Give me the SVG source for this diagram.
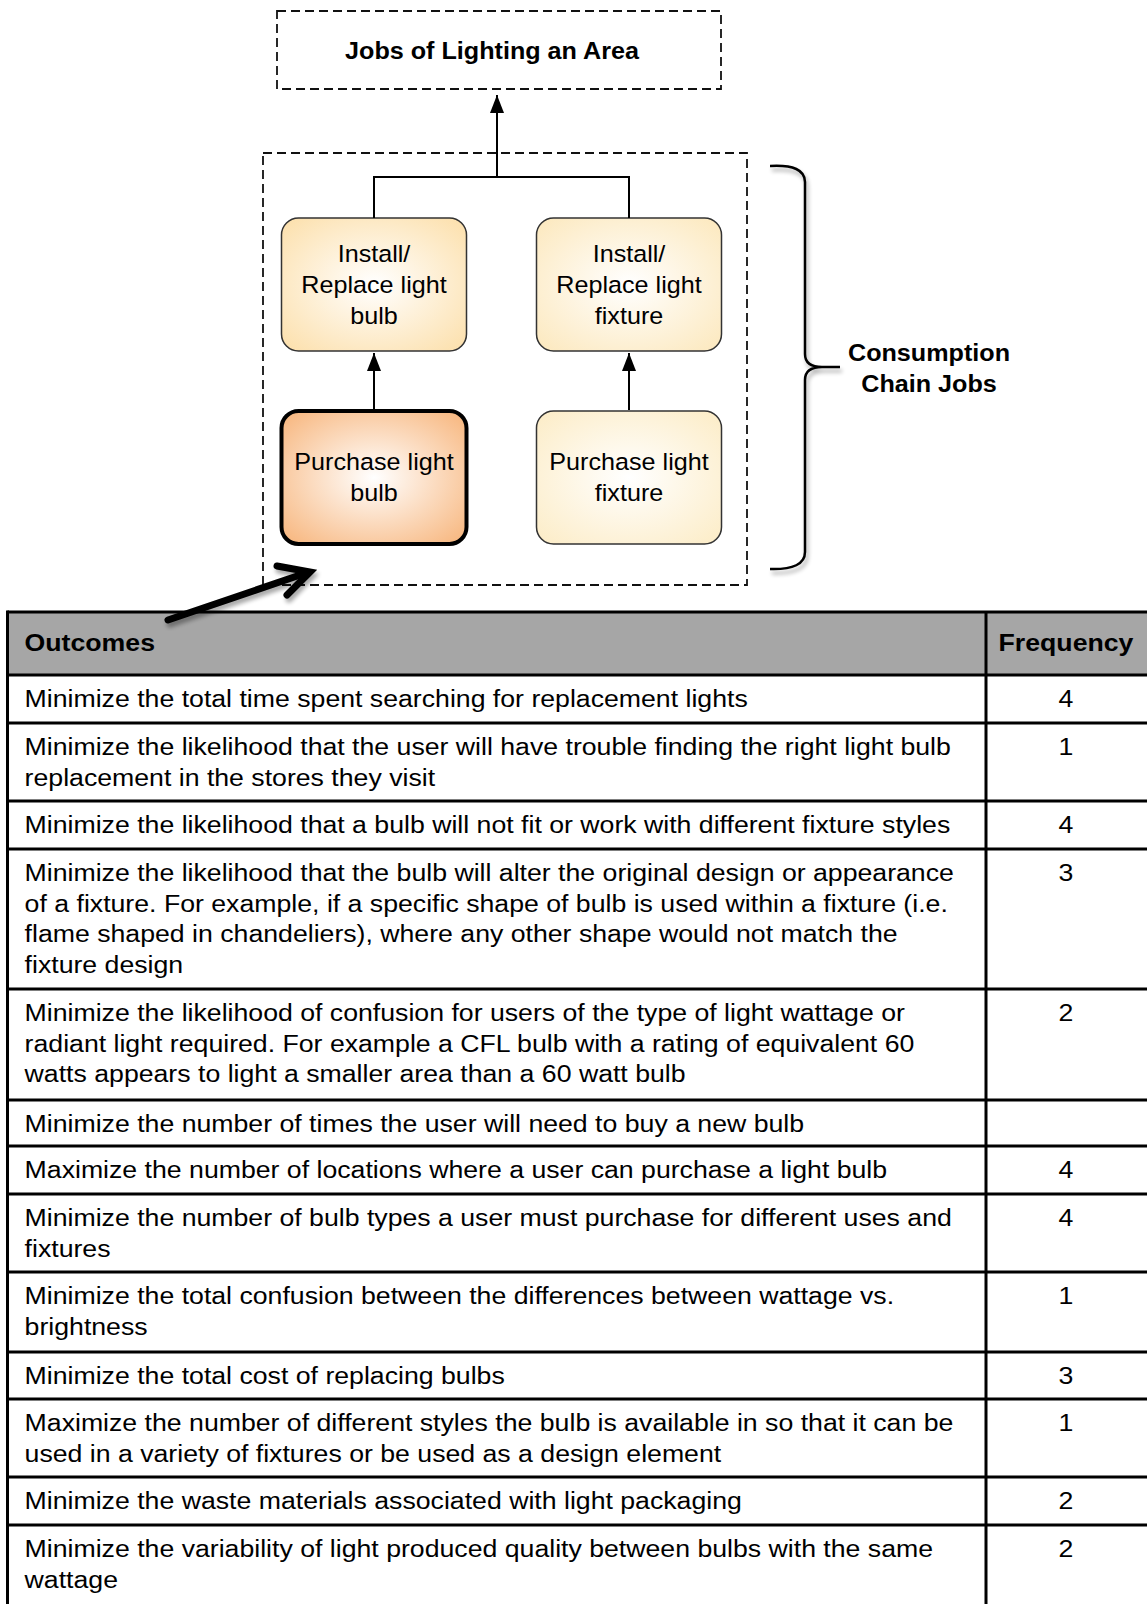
<svg xmlns="http://www.w3.org/2000/svg" width="1147" height="1604" viewBox="0 0 1147 1604">
  <style>
    .dash { fill: none; stroke: #111; stroke-width: 1.8; stroke-dasharray: 9 5; }
    .box { stroke: #333; stroke-width: 1.5; }
    .box-hl { stroke: #000; stroke-width: 4; }
    .lbl { font-family: "Liberation Sans", Arial, Helvetica, sans-serif; font-size: 23.3px; fill: #000; text-anchor: middle; }
    .bold { font-weight: bold; }
    .conn { fill: none; stroke: #000; stroke-width: 2; }
    .grid { stroke: #000; stroke-width: 3; fill: none; }
    .cell { font-family: "Liberation Sans", Arial, Helvetica, sans-serif; font-size: 23px; fill: #000; }
    .num { text-anchor: middle; }
  </style>
  <defs>
    <marker id="head" viewBox="0 0 18 14" refX="18" refY="7" markerWidth="18" markerHeight="14" markerUnits="userSpaceOnUse" orient="auto">
      <path d="M0,0 L18,7 L0,14 z" fill="#000"/>
    </marker>
    <radialGradient id="gInstallBulb" cx="50%" cy="50%" r="70%">
      <stop offset="0" stop-color="#ffffff"/>
      <stop offset="1" stop-color="#fcdfaa"/>
    </radialGradient>
    <radialGradient id="gInstallFixture" cx="50%" cy="50%" r="70%">
      <stop offset="0" stop-color="#ffffff"/>
      <stop offset="1" stop-color="#fce8bd"/>
    </radialGradient>
    <radialGradient id="gBuyBulb" cx="50%" cy="50%" r="70%">
      <stop offset="0" stop-color="#ffffff"/>
      <stop offset="1" stop-color="#f7b47a"/>
    </radialGradient>
    <radialGradient id="gBuyFixture" cx="50%" cy="50%" r="70%">
      <stop offset="0" stop-color="#ffffff"/>
      <stop offset="1" stop-color="#fcecc6"/>
    </radialGradient>
    <filter id="soft" x="-20%" y="-20%" width="140%" height="140%">
      <feGaussianBlur in="SourceAlpha" stdDeviation="2.2"/>
      <feOffset dx="2" dy="4" result="b"/>
      <feComponentTransfer><feFuncA type="linear" slope="0.35"/></feComponentTransfer>
      <feMerge><feMergeNode/><feMergeNode in="SourceGraphic"/></feMerge>
    </filter>
  </defs>

  <!-- top-level job -->
  <g id="jobs-lighting">
    <rect class="dash" x="277" y="11" width="444" height="78"/>
    <text class="lbl bold" transform="translate(492 0) scale(1.08 1)" x="0" y="59">Jobs of Lighting an Area</text>
  </g>

  <!-- consumption chain container -->
  <g id="chain-frame">
    <rect class="dash" x="263" y="153" width="484" height="432"/>
  </g>

  <g id="install-bulb">
    <rect class="box" x="281.5" y="218" width="185" height="133" rx="17" fill="url(#gInstallBulb)"/>
    <text class="lbl" transform="translate(374 0) scale(1.08 1)"><tspan x="0" y="262">Install/</tspan><tspan x="0" y="293">Replace light</tspan><tspan x="0" y="324">bulb</tspan></text>
  </g>

  <g id="install-fixture">
    <rect class="box" x="536.5" y="218" width="185" height="133" rx="17" fill="url(#gInstallFixture)"/>
    <text class="lbl" transform="translate(629 0) scale(1.08 1)"><tspan x="0" y="262">Install/</tspan><tspan x="0" y="293">Replace light</tspan><tspan x="0" y="324">fixture</tspan></text>
  </g>

  <g id="purchase-bulb">
    <rect class="box-hl" x="281.5" y="411" width="185" height="133" rx="17" fill="url(#gBuyBulb)"/>
    <text class="lbl" transform="translate(374 0) scale(1.08 1)"><tspan x="0" y="470">Purchase light</tspan><tspan x="0" y="501">bulb</tspan></text>
  </g>

  <g id="purchase-fixture">
    <rect class="box" x="536.5" y="411" width="185" height="133" rx="17" fill="url(#gBuyFixture)"/>
    <text class="lbl" transform="translate(629 0) scale(1.08 1)"><tspan x="0" y="470">Purchase light</tspan><tspan x="0" y="501">fixture</tspan></text>
  </g>

  <g id="chain-brace">
    <path d="M770,166 Q805,164 805,182 L805,354 Q805,367 822,367 L840,367 M822,367 Q805,367 805,380 L805,552 Q805,570 770,569" fill="none" stroke="#000" stroke-width="2.5" filter="url(#soft)"/>
    <text class="lbl bold" transform="translate(929 0) scale(1.08 1)"><tspan x="0" y="361">Consumption</tspan><tspan x="0" y="392">Chain Jobs</tspan></text>
  </g>

  <!-- outcomes table (open on the right and bottom edges) -->
  <g id="outcomes-table">
    <rect x="7.5" y="612" width="1139.5" height="63" fill="#a6a6a6"/>
    <g class="grid">
      <line x1="7.5" y1="612" x2="1147" y2="612"/>
      <line x1="7.5" y1="610.5" x2="7.5" y2="1604"/>
      <line x1="986" y1="612" x2="986" y2="1604"/>
      <line x1="7.5" y1="675" x2="1147" y2="675"/>
      <line x1="7.5" y1="723" x2="1147" y2="723"/>
      <line x1="7.5" y1="801" x2="1147" y2="801"/>
      <line x1="7.5" y1="849" x2="1147" y2="849"/>
      <line x1="7.5" y1="989" x2="1147" y2="989"/>
      <line x1="7.5" y1="1100" x2="1147" y2="1100"/>
      <line x1="7.5" y1="1146" x2="1147" y2="1146"/>
      <line x1="7.5" y1="1194" x2="1147" y2="1194"/>
      <line x1="7.5" y1="1272" x2="1147" y2="1272"/>
      <line x1="7.5" y1="1352" x2="1147" y2="1352"/>
      <line x1="7.5" y1="1399" x2="1147" y2="1399"/>
      <line x1="7.5" y1="1477" x2="1147" y2="1477"/>
      <line x1="7.5" y1="1525" x2="1147" y2="1525"/>
    </g>

    <g class="cell" transform="translate(24.6 0) scale(1.16 1)">
      <text x="0" y="651" font-weight="bold">Outcomes</text>
      <text x="0" y="707">Minimize the total time spent searching for replacement lights</text>
      <text><tspan x="0" y="755">Minimize the likelihood that the user will have trouble finding the right light bulb</tspan><tspan x="0" y="786">replacement in the stores they visit</tspan></text>
      <text x="0" y="833">Minimize the likelihood that a bulb will not fit or work with different fixture styles</text>
      <text><tspan x="0" y="881">Minimize the likelihood that the bulb will alter the original design or appearance</tspan><tspan x="0" y="912">of a fixture. For example, if a specific shape of bulb is used within a fixture (i.e.</tspan><tspan x="0" y="942">flame shaped in chandeliers), where any other shape would not match the</tspan><tspan x="0" y="973">fixture design</tspan></text>
      <text><tspan x="0" y="1021">Minimize the likelihood of confusion for users of the type of light wattage or</tspan><tspan x="0" y="1052">radiant light required. For example a CFL bulb with a rating of equivalent 60</tspan><tspan x="0" y="1082">watts appears to light a smaller area than a 60 watt bulb</tspan></text>
      <text x="0" y="1132">Minimize the number of times the user will need to buy a new bulb</text>
      <text x="0" y="1178">Maximize the number of locations where a user can purchase a light bulb</text>
      <text><tspan x="0" y="1226">Minimize the number of bulb types a user must purchase for different uses and</tspan><tspan x="0" y="1257">fixtures</tspan></text>
      <text><tspan x="0" y="1304">Minimize the total confusion between the differences between wattage vs.</tspan><tspan x="0" y="1335">brightness</tspan></text>
      <text x="0" y="1384">Minimize the total cost of replacing bulbs</text>
      <text><tspan x="0" y="1431">Maximize the number of different styles the bulb is available in so that it can be</tspan><tspan x="0" y="1462">used in a variety of fixtures or be used as a design element</tspan></text>
      <text x="0" y="1509">Minimize the waste materials associated with light packaging</text>
      <text><tspan x="0" y="1557">Minimize the variability of light produced quality between bulbs with the same</tspan><tspan x="0" y="1588">wattage</tspan></text>
    </g>

    <g class="cell num" transform="translate(1066 0) scale(1.16 1)">
      <text x="0" y="651" font-weight="bold">Frequency</text>
      <text x="0" y="707">4</text>
      <text x="0" y="755">1</text>
      <text x="0" y="833">4</text>
      <text x="0" y="881">3</text>
      <text x="0" y="1021">2</text>
      <text x="0" y="1178">4</text>
      <text x="0" y="1226">4</text>
      <text x="0" y="1304">1</text>
      <text x="0" y="1384">3</text>
      <text x="0" y="1431">1</text>
      <text x="0" y="1509">2</text>
      <text x="0" y="1557">2</text>
    </g>
  </g>

  <!-- connectors (drawn last so the pointer arrow sits over the table header) -->
  <g id="connectors">
    <path class="conn" d="M374,218 V177 H629 V218"/>
    <path class="conn" d="M497,177 V95" marker-end="url(#head)"/>
    <path class="conn" d="M374,410 V353" marker-end="url(#head)"/>
    <path class="conn" d="M629,410 V353" marker-end="url(#head)"/>
    <g filter="url(#soft)" fill="none" stroke="#000" stroke-width="7" stroke-linecap="round" stroke-linejoin="miter">
      <path d="M168,620 L306,573"/>
      <path d="M277,566 L310,572 L287,595"/>
    </g>
  </g>
</svg>
